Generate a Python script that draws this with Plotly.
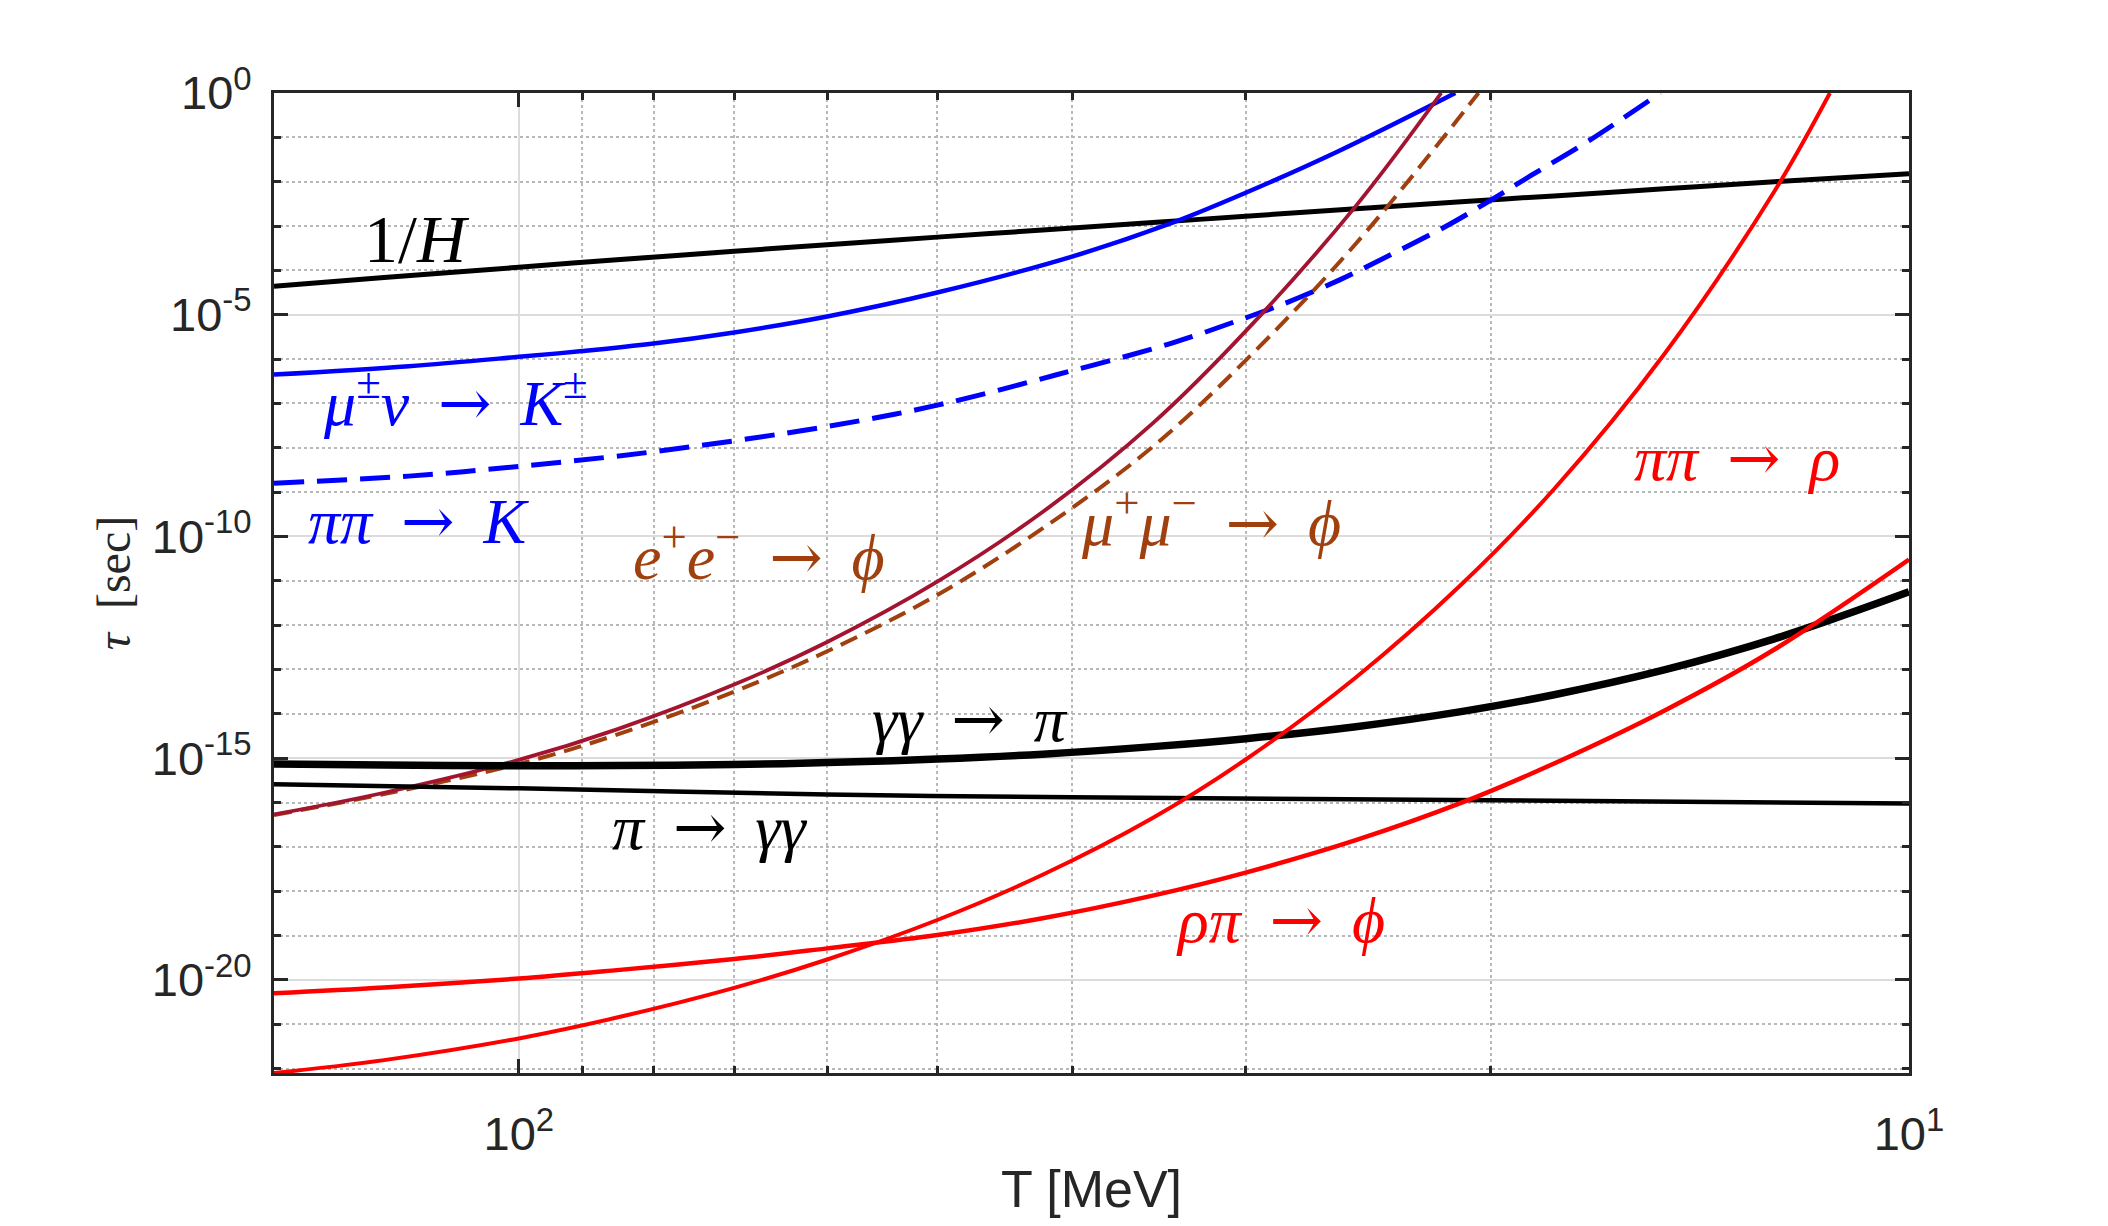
import numpy as np
import plotly.graph_objects as go

# temperatures T [MeV] and log10(tau [sec]), one pair of arrays per curve
T_grid = [150, 125, 100, 85, 70, 60, 50, 42, 35, 30, 25, 21, 18, 15, 12.5, 10]

tau_hubble = [-4.36, -4.16, -3.93, -3.76, -3.57, -3.42, -3.25, -3.09, -2.92, -2.78, -2.61, -2.45,
              -2.32, -2.16, -2.00, -1.82]

T_munu_K = [150, 120, 100, 90, 80, 70, 60, 50, 40, 33.9, 30, 25.8, 21.2]
tau_munu_K = [-6.35, -6.16, -5.95, -5.82, -5.65, -5.40, -5.04, -4.50, -3.69, -2.93, -2.25, -1.33, 0.0]

T_pipi_K = [150, 120, 100, 80, 60, 50, 41.1, 33.9, 30, 28.2, 25.7, 23.5, 21.4, 20, 18.7, 17.0, 15.1]
tau_pipi_K = [-8.80, -8.64, -8.42, -8.09, -7.52, -7.04, -6.36, -5.64, -5.07, -4.76, -4.22, -3.62, -2.96,
              -2.42, -1.86, -1.08, 0]

T_ee_phi = [150, 125, 100, 85, 70, 60, 50, 42, 35, 30, 25, 21.7]
tau_ee_phi = [-16.27, -15.78, -15.04, -14.35, -13.34, -12.38, -11.02, -9.45, -7.45, -5.37, -2.55, 0]

T_mumu_phi = [150, 125, 100, 85, 70, 60, 50, 42, 35, 30, 25, 20.4]
tau_mumu_phi = [-16.28, -15.81, -15.13, -14.47, -13.50, -12.59, -11.32, -9.82, -7.98, -6.03, -3.40, 0]

tau_gg_pi = [-15.13, -15.155, -15.17, -15.167, -15.144, -15.10, -15.02, -14.91, -14.74, -14.56, -14.29,
             -13.95, -13.57, -13.01, -12.31, -11.25]

T_pi_gg = [150, 100, 60, 40, 20, 10]
tau_pi_gg = [-15.59, -15.68, -15.82, -15.88, -15.95, -16.02]

T_pipi_rho = [150, 125, 100, 85, 70, 60, 50, 42, 35, 30, 25, 21, 18, 15, 12.5, 11.4]
tau_pipi_rho = [-22.10, -21.81, -21.32, -20.85, -20.18, -19.54, -18.65, -17.63, -16.35, -15.03, -13.18,
                -11.09, -8.93, -5.89, -2.22, 0]

tau_rhopi_phi = [-20.30, -20.17, -19.97, -19.78, -19.53, -19.29, -18.99, -18.61, -18.10, -17.58, -16.85,
                 -16.01, -15.12, -13.93, -12.55, -10.52]

# axis ticks
y_major = [-20, -15, -10, -5, 0]
y_minor = [d for d in range(-22, 0) if d not in y_major]
x_major = [10, 100]
x_minor = [20, 30, 40, 50, 60, 70, 80, 90]

ARROW = '\u2009<span style="font-family:DejaVu Serif">→</span>\u2009'

# curve labels: text, T, log10(tau), colour, size
labels = [
    ("1/<i>H</i>", 118.4, -3.3, "black", 68),
    ("<i>μ</i><sup>±</sup><i>ν</i> " + ARROW + " <i>K</i><sup>±</sup>", 111, -6.9, "#0000FF", 64),
    ("<i>ππ</i> " + ARROW + " <i>K</i>", 118, -9.65, "#0000FF", 64),
    ("<i>e</i><sup>+</sup><i>e</i><sup>−</sup> " + ARROW + " <i>ϕ</i>", 67.2, -10.38, "#A0400F", 64),
    ("<i>μ</i><sup>+</sup><i>μ</i><sup>−</sup> " + ARROW + " <i>ϕ</i>", 31.8, -9.6, "#A0400F", 64),
    ("<i>ππ</i> " + ARROW + " <i>ρ</i>", 13.3, -8.22, "#FF0000", 64),
    ("<i>γγ</i> " + ARROW + " <i>π</i>", 47.4, -14.12, "black", 64),
    ("<i>π</i> " + ARROW + " <i>γγ</i>", 72.8, -16.56, "black", 64),
    ("<i>ρπ</i> " + ARROW + " <i>ϕ</i>", 28.3, -18.66, "#FF0000", 64),
]

fig = go.Figure()


def add_curve(T, logtau, color, width, dash="solid"):
    fig.add_trace(go.Scatter(
        x=T, y=10 ** np.array(logtau, dtype=float), mode="lines",
        line=dict(color=color, width=width, dash=dash, shape="spline", smoothing=1.0),
        showlegend=False, hoverinfo="skip"))


add_curve(T_grid, tau_hubble, "black", 5)
add_curve(T_munu_K, tau_munu_K, "#0000FF", 4.5)
add_curve(T_pipi_K, tau_pipi_K, "#0000FF", 5, "30px,13px")
add_curve(T_mumu_phi, tau_mumu_phi, "#A0400F", 4, "18px,9px")
add_curve(T_ee_phi, tau_ee_phi, "#A2142F", 3.8)
add_curve(T_grid, tau_gg_pi, "black", 7.5)
add_curve(T_pi_gg, tau_pi_gg, "black", 4.5)
add_curve(T_pipi_rho, tau_pipi_rho, "#FF0000", 4)
add_curve(T_grid, tau_rhopi_phi, "#FF0000", 4.5)

for text, T, lt, col, size in labels:
    fig.add_annotation(x=np.log10(T), y=lt, xref="x", yref="y", text=text, showarrow=False,
                       font=dict(family="Liberation Serif", size=size, color=col),
                       xanchor="center", yanchor="middle")

axis_common = dict(
    type="log", showline=True, linecolor="#262626", linewidth=3, mirror="ticks",
    ticks="inside", ticklen=14, tickwidth=3, tickcolor="#262626",
    showgrid=True, gridcolor="#DCDCDC", gridwidth=2, zeroline=False,
    tickfont=dict(family="Liberation Sans", size=47, color="#262626"),
)

fig.update_xaxes(
    **axis_common,
    range=[np.log10(150), 1],
    tickvals=x_major,
    ticktext=["10<sup>1</sup>", "10<sup>2</sup>"],
    minor=dict(tickvals=x_minor, ticks="inside", ticklen=7, tickwidth=3, tickcolor="#262626",
               showgrid=True, gridcolor="#B8B8B8", gridwidth=2, griddash="dot"),
    ticklabelstandoff=18,
    title=dict(text="T [MeV]", font=dict(family="Liberation Sans", size=52, color="#262626"), standoff=12),
)

fig.update_yaxes(
    **axis_common,
    range=[-22.1, 0],
    tickvals=[10.0 ** d for d in y_major],
    ticktext=["10<sup>%d</sup>" % d for d in y_major],
    minor=dict(tickvals=[10.0 ** d for d in y_minor], ticks="inside", ticklen=7, tickwidth=3,
               tickcolor="#262626", showgrid=True, gridcolor="#B8B8B8", gridwidth=2, griddash="dot"),
    ticklabelstandoff=10,
    title=dict(text="<i>τ</i>  [sec]", font=dict(family="Liberation Serif", size=48, color="#262626"), standoff=6),
)

fig.update_layout(
    width=2108, height=1226, autosize=False,
    margin=dict(l=266, r=207, t=85, b=161),
    plot_bgcolor="white", paper_bgcolor="white",
)

fig.write_html("out.html")
